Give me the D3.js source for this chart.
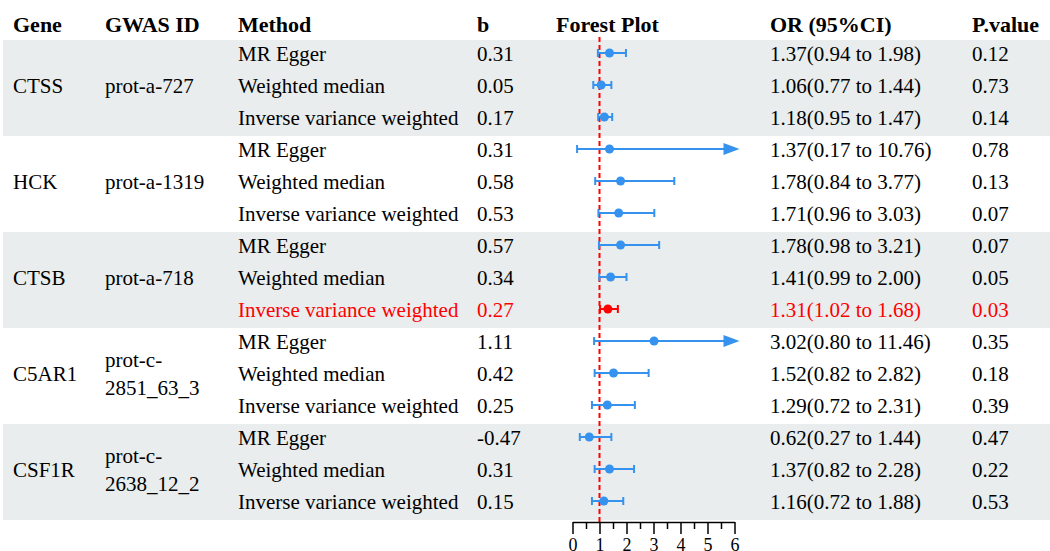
<!DOCTYPE html>
<html>
<head>
<meta charset="utf-8">
<script src="https://cdn.jsdelivr.net/npm/d3@7"></script>
<style>
  body { margin: 0; background: #fff; }
  text { font-family: "Liberation Serif", "Times New Roman", serif; }
</style>
</head>
<body>
<div id="chart"></div>
<script>
// Data
const genes = ["CTSS", "HCK", "CTSB", "C5AR1", "CSF1R"]
const gwasIds = [["prot-a-727"], ["prot-a-1319"], ["prot-a-718"], ["prot-c-", "2851_63_3"], ["prot-c-", "2638_12_2"]]
const methods = ["MR Egger", "Weighted median", "Inverse variance weighted"]
const bValues = [0.31, 0.05, 0.17, 0.31, 0.58, 0.53, 0.57, 0.34, 0.27, 1.11, 0.42, 0.25, -0.47, 0.31, 0.15]
const orValues = [1.37, 1.06, 1.18, 1.37, 1.78, 1.71, 1.78, 1.41, 1.31, 3.02, 1.52, 1.29, 0.62, 1.37, 1.16]
const lowerCI = [0.94, 0.77, 0.95, 0.17, 0.84, 0.96, 0.98, 0.99, 1.02, 0.80, 0.82, 0.72, 0.27, 0.82, 0.72]
const upperCI = [1.98, 1.44, 1.47, 10.76, 3.77, 3.03, 3.21, 2.00, 1.68, 11.46, 2.82, 2.31, 1.44, 2.28, 1.88]
const pValues = ["0.12", "0.73", "0.14", "0.78", "0.13", "0.07", "0.07", "0.05", "0.03", "0.35", "0.18", "0.39", "0.47", "0.22", "0.53"]
const headers = ["Gene", "GWAS ID", "Method", "b", "Forest Plot", "OR (95%CI)", "P.value"]
const highlightRow = 8
const axisTicks = [0, 1, 2, 3, 4, 5, 6]

function draw() {
  const blue = '#3592ee'
  const red = '#ff0000'

  let dimensions = {
    width: 1050,
    height: 551,
    rowTop: 37,
    rowH: 32,
    axisY: 522,
  }

  const rows = []
  genes.forEach((g, gi) => {
    methods.forEach((m, mi) => {
      const i = gi * methods.length + mi
      rows.push({
        i, gi, mi, method: m, b: bValues[i], or: orValues[i],
        lo: lowerCI[i], hi: upperCI[i], p: pValues[i]
      })
    })
  })

  const svg = d3.select('#chart')
    .append('svg')
    .attr('width', dimensions.width)
    .attr('height', dimensions.height)

  // Scales
  const yScale = d3.scaleBand()
    .domain(rows.map(d => d.i))
    .range([dimensions.rowTop, dimensions.rowTop + dimensions.rowH * rows.length])
  const yMid = i => yScale(i) + yScale.bandwidth() / 2
  const textOff = 8

  const xScale = d3.scaleLinear()
    .domain([0, 6])
    .range([572.5, 734.5])

  // column positions
  const colX = [13, 105, 238, 477, 556, 770, 972]

  // background bands
  svg.append('g')
    .selectAll('rect')
    .data(genes.filter((g, gi) => gi % 2 === 0))
    .join('rect')
    .attr('x', 3)
    .attr('y', g => yScale(genes.indexOf(g) * 3) + 3)
    .attr('width', dimensions.width - 3)
    .attr('height', yScale.bandwidth() * 3)
    .attr('fill', '#e9eded')

  // header
  svg.append('g')
    .selectAll('text')
    .data(headers)
    .join('text')
    .attr('x', (d, i) => colX[i])
    .attr('y', 32)
    .attr('font-size', 22)
    .attr('font-weight', 'bold')
    .attr('fill', '#000')
    .text(d => d)

  // gene + gwas
  const geneG = svg.append('g')
  genes.forEach((g, gi) => {
    const base = yMid(gi * 3 + 1) + textOff
    geneG.append('text')
      .attr('x', colX[0]).attr('y', base)
      .attr('font-size', 21)
      .text(g)
    const lines = gwasIds[gi]
    lines.forEach((t, li) => {
      geneG.append('text')
        .attr('x', colX[1])
        .attr('y', base + (li - (lines.length - 1) / 2) * 28)
        .attr('font-size', 21)
        .text(t)
    })
  })

  // row text
  const rowG = svg.append('g')
    .selectAll('g')
    .data(rows)
    .join('g')
    .attr('fill', d => d.i === highlightRow ? red : '#000')
    .attr('font-size', 21)

  rowG.append('text').attr('x', colX[2]).attr('y', d => yMid(d.i) + textOff).text(d => d.method)
  rowG.append('text').attr('x', colX[3]).attr('y', d => yMid(d.i) + textOff).text(d => d.b.toFixed(2))
  rowG.append('text').attr('x', colX[5]).attr('y', d => yMid(d.i) + textOff)
    .text(d => `${d.or.toFixed(2)}(${d.lo.toFixed(2)} to ${d.hi.toFixed(2)})`)
  rowG.append('text').attr('x', colX[6]).attr('y', d => yMid(d.i) + textOff).text(d => d.p)

  // reference line
  svg.append('line')
    .attr('x1', xScale(1)).attr('x2', xScale(1))
    .attr('y1', dimensions.rowTop).attr('y2', dimensions.axisY)
    .attr('stroke', red)
    .attr('stroke-width', 2)
    .attr('stroke-dasharray', '5,3')

  // forest marks
  const xMax = xScale.domain()[1]
  const marks = svg.append('g')
    .selectAll('g')
    .data(rows)
    .join('g')
    .attr('transform', d => `translate(0, ${yMid(d.i)})`)
    .attr('stroke', d => d.i === highlightRow ? red : blue)
    .attr('fill', d => d.i === highlightRow ? red : blue)

  const tip = xScale(xMax) + 5
  marks.append('line')
    .attr('x1', d => xScale(d.lo))
    .attr('x2', d => d.hi > xMax ? tip - 14 : xScale(d.hi))
    .attr('stroke-width', 2)

  marks.append('line')
    .attr('x1', d => xScale(d.lo)).attr('x2', d => xScale(d.lo))
    .attr('y1', -4).attr('y2', 4)
    .attr('stroke-width', 2)

  marks.filter(d => d.hi <= xMax)
    .append('line')
    .attr('x1', d => xScale(d.hi)).attr('x2', d => xScale(d.hi))
    .attr('y1', -4).attr('y2', 4)
    .attr('stroke-width', 2)

  marks.filter(d => d.hi > xMax)
    .append('path')
    .attr('stroke', 'none')
    .attr('d', `M${tip},0L${tip - 16},-6L${tip - 16},6Z`)

  marks.append('circle')
    .attr('cx', d => xScale(d.or))
    .attr('r', 4.5)
    .attr('stroke', 'none')

  // Axis
  const minorTicks = d3.range(0.5, 6, 1)
  const minorAxis = d3.axisBottom(xScale)
    .tickValues(minorTicks)
    .tickSize(7)
    .tickSizeOuter(0)
    .tickFormat('')
  svg.append('g')
    .attr('transform', `translate(0, ${dimensions.axisY})`)
    .call(minorAxis)
    .call(g => g.select('.domain').remove())
    .call(g => g.selectAll('line').attr('stroke-width', 1.5))

  const xAxis = d3.axisBottom(xScale)
    .tickValues(axisTicks)
    .tickSize(12)
    .tickSizeOuter(0)
    .tickFormat(d3.format('d'))
  svg.append('g')
    .attr('transform', `translate(0, ${dimensions.axisY})`)
    .call(xAxis)
    .call(g => g.select('.domain').attr('stroke-width', 1.5))
    .call(g => g.selectAll('line').attr('stroke-width', 1.5))
    .call(g => g.selectAll('text')
      .attr('y', 16)
      .attr('font-size', 18)
      .attr('font-family', '"Liberation Sans", Arial, sans-serif'))
}

draw()
</script>
</body>
</html>
